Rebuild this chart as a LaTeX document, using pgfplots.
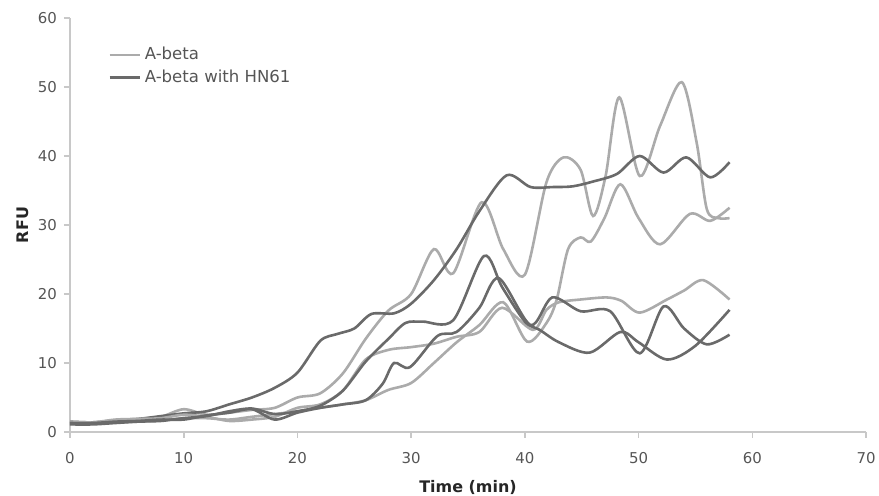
\documentclass[border=0pt]{standalone}
\usepackage{pgfplots}
\pgfplotsset{compat=1.18}
\usepackage{fontspec}
\setmainfont{DejaVu Sans}
\definecolor{lightl}{HTML}{ABABAB}
\definecolor{darkl}{HTML}{6A6A6A}
\definecolor{axgray}{HTML}{C8C8C8}
\definecolor{txtgray}{HTML}{555555}
\begin{document}
\begin{tikzpicture}
\begin{axis}[
  scale only axis,
  width=398bp, height=207bp,
  xmin=0, xmax=70, ymin=0, ymax=60,
  xtick={0,10,...,70}, ytick={0,10,...,60},
  axis x line=bottom, axis y line=left,
  axis line style={axgray, line width=0.8pt, -},
  tick style={axgray, line width=0.8pt},
  tick align=outside, major tick length=3bp,
  /pgf/number format/assume math mode=true,
  ticklabel style={font=\fontsize{7.5}{9}\selectfont, text=txtgray},
  xticklabel style={yshift=-3.5bp},
  xlabel={\textbf{Time (min)}}, ylabel={\textbf{RFU}},
  label style={font=\fontsize{8}{10}\selectfont, text=black!85},
  xlabel style={yshift=-1.5bp},
  ylabel style={yshift=-2bp},
  legend style={at={(0.04,0.95)}, anchor=north west, draw=none, fill=none,
    font=\fontsize{8.3}{10}\selectfont, text=txtgray, row sep=-0.5bp},
  legend cell align=left,
  legend image code/.code={\draw[#1] (0bp,0bp) -- (15bp,0bp);},
  every axis plot/.append style={smooth, tension=0.5, line width=1.3bp},
]
% A-beta (light)
\addplot[lightl] coordinates {(0,1.4) (2,1.3) (4,1.6) (6,1.8) (8,2.2) (10,3.3) (12,2.5) (14,2.8) (16,3.2) (18,3.5) (20,5) (22,5.6) (24,8.5) (26,13.5) (28,17.6) (30,20) (32,26.5) (33.7,23) (36.2,33.3) (38.1,26.5) (40,22.8) (41.9,36.2) (43.4,39.8) (44.9,38) (46,31.3) (47.1,37.1) (48.3,48.5) (50.1,37.1) (51.9,44.4) (53.8,50.7) (55.1,42) (56,32.3) (57,31) (58,31)};
\addlegendentry{A-beta}
\addplot[darkl] coordinates {(0,1.5) (2,1.4) (4,1.7) (6,1.9) (8,2.3) (10,2.7) (12,3) (14,4) (16,5) (18,6.4) (20,8.6) (22,13.2) (23.5,14.2) (25,15) (26.5,17.1) (28.5,17.2) (30,18.6) (32,22) (34,26.5) (36,32) (38.4,37.2) (40.5,35.5) (42.5,35.5) (44.2,35.6) (46,36.3) (48.1,37.4) (50.1,40) (52.2,37.6) (54.2,39.8) (56.3,36.9) (58,39.1)};
\addlegendentry{A-beta with HN61}
\addplot[lightl, forget plot] coordinates {(0,1.2) (2,1.2) (4,1.4) (6,1.5) (8,1.7) (10,2) (12,2) (14,1.8) (16,2.2) (18,2.6) (20,3) (22,3.5) (24,4) (26,4.6) (28,6.1) (30,7.1) (32,10) (34,13) (36,15.5) (38.1,18.8) (40.2,13.1) (41.9,15.8) (42.8,19.2) (43.8,26.5) (44.9,28.2) (45.8,27.6) (47,31) (48.4,35.9) (50,31) (51.9,27.2) (54.5,31.6) (56.3,30.6) (58,32.5)};
\addplot[lightl, forget plot] coordinates {(0,1.5) (2,1.4) (4,1.8) (6,1.9) (8,2) (10,2.5) (12,2.2) (14,1.6) (16,1.8) (18,2.2) (20,3.5) (22,4) (24,6) (26,10.5) (28,11.9) (30,12.3) (32,12.8) (34,13.8) (36,14.5) (38,18) (40.7,14.8) (41.9,17.7) (43,18.8) (44.9,19.2) (47.2,19.5) (48.5,19) (50.1,17.3) (52.5,19.2) (54,20.5) (55.7,22) (58,19.2)};
% A-beta with HN61 (dark)
\addplot[darkl, forget plot] coordinates {(0,1.1) (2,1.1) (4,1.3) (6,1.5) (8,1.6) (10,2) (12,2.3) (14,3) (16,3.4) (18,2.6) (20,3) (22,3.8) (24,6) (26,10.2) (28,13.5) (29.5,15.8) (31,16) (33.7,16.2) (36.4,25.5) (38,21) (40,16) (41.3,14.8) (43,13) (45.7,11.5) (48.4,14.5) (50,13) (52.5,10.5) (55,12.5) (58,17.7)};
\addplot[darkl, forget plot] coordinates {(0,1.3) (2,1.3) (4,1.5) (6,1.6) (8,1.8) (10,1.8) (12,2.4) (14,2.8) (16,3.3) (18,1.8) (20,2.8) (22,3.5) (24,4) (26,4.6) (27.5,7) (28.5,10) (29.9,9.4) (32.3,13.9) (34,14.5) (36,18) (37.7,22.3) (40.5,15.5) (42.4,19.5) (44.9,17.5) (47.5,17.5) (50.1,11.4) (52.2,18.2) (54,15) (56,12.7) (58,14.1)};
\end{axis}
\pgfresetboundingbox
\path[use as bounding box] ([xshift=-35bp,yshift=-32bp]current axis.south west) rectangle ([xshift=6.5bp,yshift=9bp]current axis.north east);
\end{tikzpicture}
\end{document}
